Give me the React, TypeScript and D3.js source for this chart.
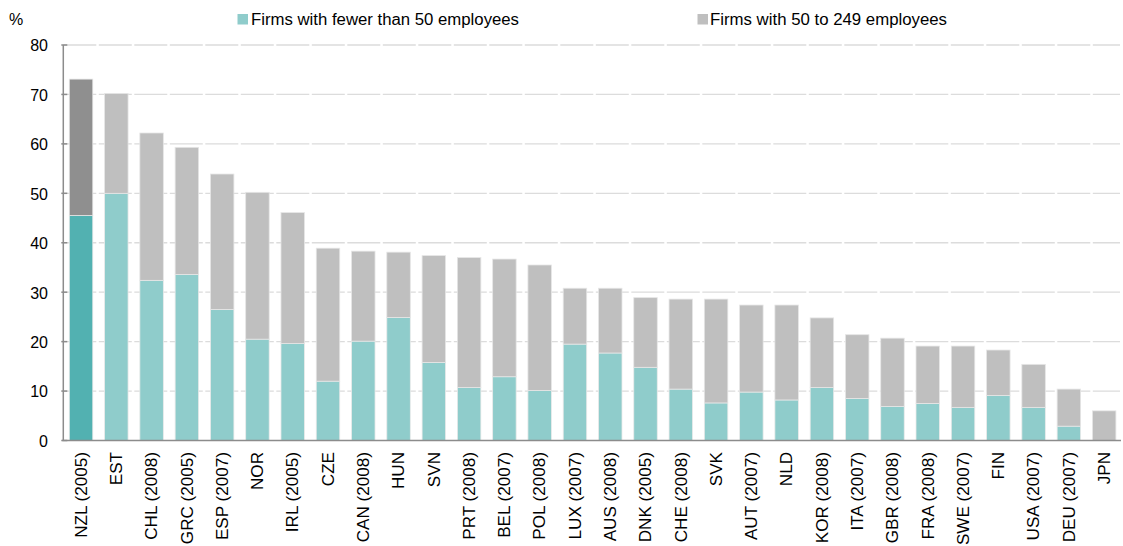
import React from "react";
import * as d3 from "d3";

const countries = ["NZL (2005)", "EST", "CHL (2008)", "GRC (2005)", "ESP (2007)", "NOR", "IRL (2005)", "CZE", "CAN (2008)", "HUN", "SVN", "PRT (2008)", "BEL (2007)", "POL (2008)", "LUX (2007)", "AUS (2008)", "DNK (2005)", "CHE (2008)", "SVK", "AUT (2007)", "NLD", "KOR (2008)", "ITA (2007)", "GBR (2008)", "FRA (2008)", "SWE (2007)", "FIN", "USA (2007)", "DEU (2007)", "JPN"];
const smallFirms = [45.5, 50.0, 32.4, 33.6, 26.5, 20.5, 19.6, 12.0, 20.1, 24.9, 15.8, 10.7, 12.9, 10.1, 19.5, 17.7, 14.8, 10.4, 7.6, 9.8, 8.2, 10.7, 8.5, 6.9, 7.5, 6.7, 9.1, 6.7, 2.9, 0];
const mediumFirms = [27.6, 20.2, 29.8, 25.7, 27.4, 29.7, 26.5, 26.9, 18.2, 13.2, 21.6, 26.3, 23.8, 25.4, 11.3, 13.1, 14.1, 18.2, 21.0, 17.6, 19.2, 14.1, 12.9, 13.8, 11.6, 12.4, 9.2, 8.7, 7.5, 6.0];
const yTicks = [0, 10, 20, 30, 40, 50, 60, 70, 80];
const seriesNames = ["Firms with fewer than 50 employees", "Firms with 50 to 249 employees"];

const FONT = "'Liberation Sans', Arial, sans-serif";
const TEAL = "#8fcccb";
const TEAL_HI = "#52b1b1";
const GREY = "#bfbfbf";
const GREY_HI = "#8f8f8f";

export default function App() {
  const x = d3.scaleBand<string>().domain(countries).range([63.4, 1121.8]).paddingInner(0.334).paddingOuter(0.167);
  const y = d3.scaleLinear().domain([0, 80]).range([440.5, 45]);
  const axisX = 63.3;
  const right = 1120;

  return (
    <svg width={1123} height={546} style={{ position: "absolute", left: 0, top: 0, display: "block" }} fontFamily={FONT}>
      <rect x={0} y={0} width={1123} height={546} fill="#fff" />
      {/* gridlines */}
      {yTicks.filter((t) => t > 0).map((t) => (
        <line key={"g" + t} x1={axisX} x2={right} y1={y(t)} y2={y(t)} stroke="#dcdcdc" strokeWidth={1.3} strokeDasharray="33,2.5" />
      ))}
      {/* bars */}
      {countries.map((c, i) => {
        const hi = i === 0;
        const x0 = x(c)!;
        const w = x.bandwidth();
        const s = smallFirms[i];
        const m = mediumFirms[i];
        return (
          <g key={c}>
            {s > 0 && (
              <rect x={x0} y={y(s)} width={w} height={y(0) - y(s)} fill={hi ? TEAL_HI : TEAL} stroke="#eaeaea" strokeWidth={0.8} />
            )}
            <rect x={x0} y={y(s + m)} width={w} height={y(s) - y(s + m)} fill={hi ? GREY_HI : GREY} stroke="#e6e6e6" strokeWidth={0.8} />
          </g>
        );
      })}
      {/* axes */}
      <line x1={axisX} x2={axisX} y1={y(80)} y2={y(0)} stroke="#8c8c8c" strokeWidth={1.5} />
      <line x1={axisX - 1} x2={right + 1} y1={y(0)} y2={y(0)} stroke="#8c8c8c" strokeWidth={1.5} />
      {yTicks.map((t) => (
        <g key={"t" + t}>
          <line x1={axisX - 2} x2={axisX + 4} y1={y(t)} y2={y(t)} stroke="#8c8c8c" strokeWidth={1.5} />
          <text x={48} y={y(t)} dy="0.4em" textAnchor="end" fontSize={16} fill="#000">{t}</text>
        </g>
      ))}
      <text x={9} y={25} fontSize={16} fill="#000">%</text>
      {/* x labels */}
      {countries.map((c) => {
        const cx = x(c)! + x.bandwidth() / 2;
        return (
          <text key={"l" + c} transform={`translate(${cx},452) rotate(-90) scale(1.07,1)`} dy="0.36em" textAnchor="end" fontSize={16} fill="#000">{c}</text>
        );
      })}
      {/* legend */}
      <rect x={237.5} y={14} width={10.5} height={10.5} fill={TEAL} />
      <text x={251} y={25} fontSize={16} fill="#000" textLength={268} lengthAdjust="spacingAndGlyphs">{seriesNames[0]}</text>
      <rect x={697.5} y={14} width={10.5} height={10.5} fill={GREY} />
      <text x={710} y={25} fontSize={16} fill="#000" textLength={237} lengthAdjust="spacingAndGlyphs">{seriesNames[1]}</text>
    </svg>
  );
}
